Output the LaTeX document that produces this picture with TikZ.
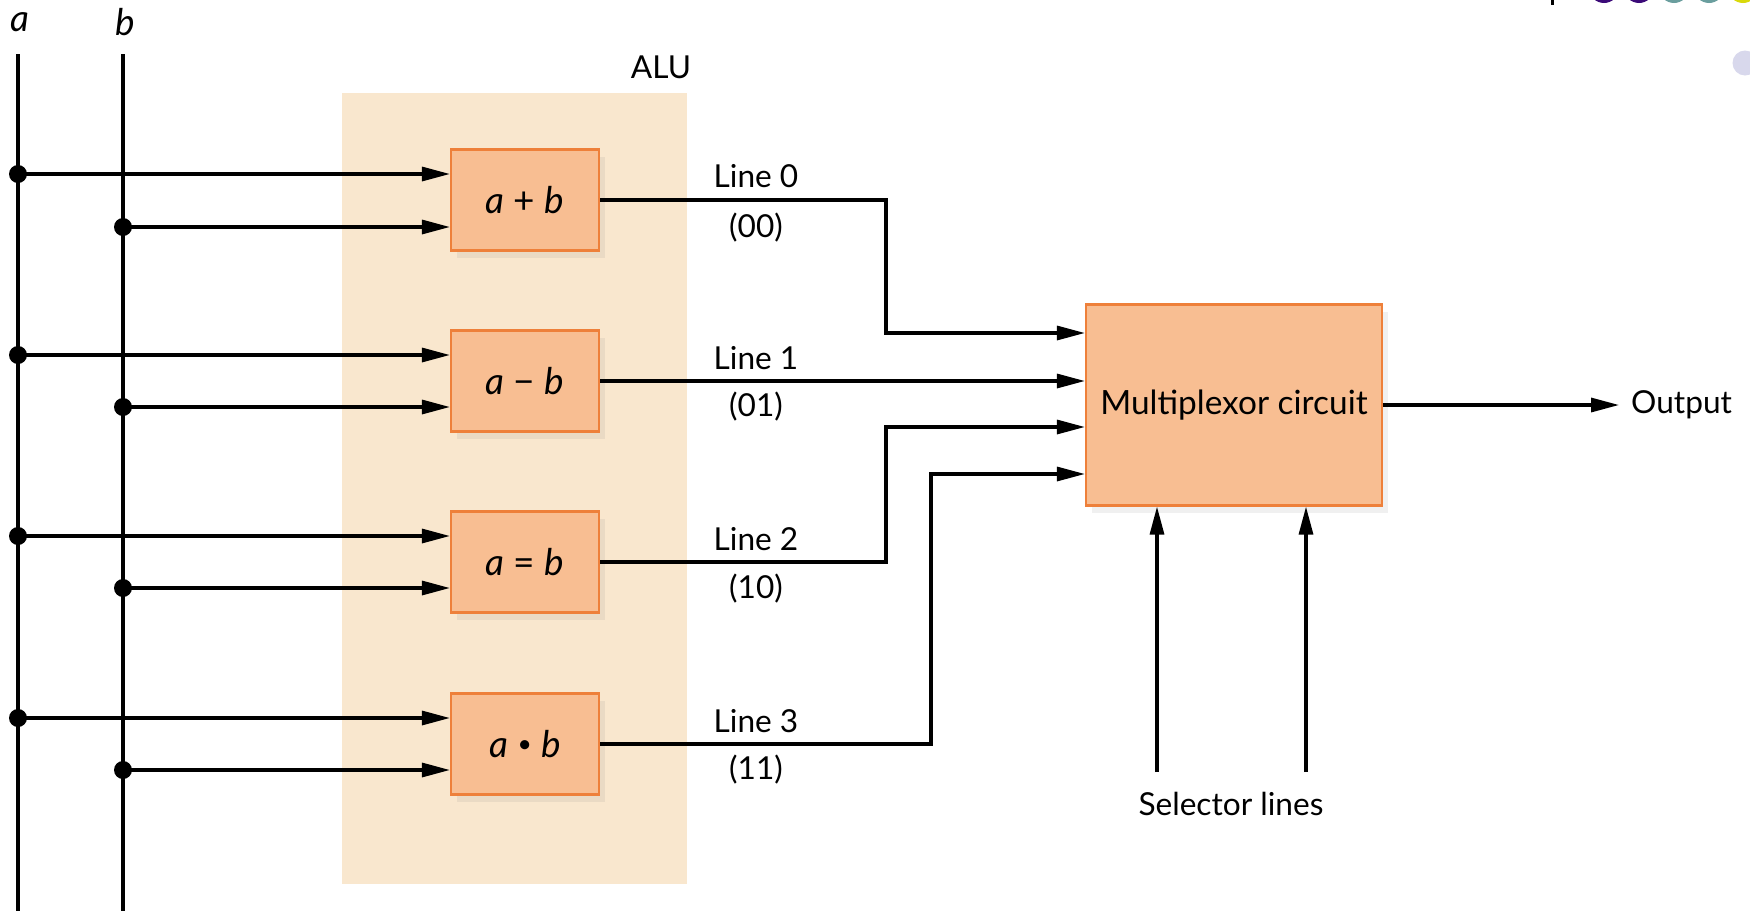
\documentclass[tikz,border=0pt]{standalone}
\usepackage{fontspec}
\setmainfont{Lato}
\usepackage{tikz}
\usetikzlibrary{arrows.meta}
\usetikzlibrary{shadows}
\definecolor{alubg}{RGB}{249,231,206}
\definecolor{pfirsich}{RGB}{248,190,146}
\definecolor{kante}{RGB}{238,128,58}
\definecolor{lila}{RGB}{59,10,120}
\definecolor{petrol}{RGB}{106,158,158}
\definecolor{gelb}{RGB}{217,217,10}
\definecolor{lavendel}{RGB}{216,216,236}

\begin{document}
\begin{tikzpicture}
     [
     x=0.1mm, y=-0.1mm,
     op/.style = {draw=kante, line width=0.6pt, fill=pfirsich,
       minimum width=14.8mm, minimum height=10.1mm,
       font=\fontsize{10.5pt}{12pt}\selectfont,
       drop shadow={shadow xshift=0.6mm, shadow yshift=-0.7mm, opacity=0.12}},
     mux/.style = {op, font=\fontsize{9.5pt}{11pt}\selectfont,
       minimum width=29.6mm, minimum height=20.1mm},
     punkt/.style = {circle, fill, inner sep=0pt, minimum size=1.8mm},
     >={Triangle[length=2.8mm,width=1.4mm]}, line width=0.9pt
     ]
     \fontsize{9pt}{11pt}\selectfont

     \useasboundingbox (0,0) rectangle (1750,911);

     % Folienschmuck oben rechts
     \fill (1551,0) rectangle (1554,5);
     \fill[lila] (1604,-12) circle (1.5mm) (1639,-12) circle (1.5mm);
     \fill[petrol] (1674,-12) circle (1.5mm) (1709,-12) circle (1.5mm);
     \fill[gelb] (1743,-12) circle (1.5mm);
     \fill[lavendel] (1745,63) circle (1.25mm);

     \fill[alubg] (342,93) rectangle (687,884);
     \path (661,67) node (alu) {ALU};

     \draw (525,200) node[op] (add) {\textit{a} + \textit{b}}
           (525,381) node[op] (sub) {\textit{a} − \textit{b}}
           (525,562) node[op] (eq) {\textit{a} = \textit{b}}
           (525,744) node[op] (und) {\textit{a} \raisebox{1.3pt}{\fontsize{7pt}{7pt}\selectfont\textbullet} \textit{b}}
           (1234,405) node[mux] (mux) {Multiplexor circuit}
     ;

     % Eingaenge a und b
     \path (20,22) node[font=\fontsize{10.5pt}{12pt}\selectfont] (alab) {\textit{a}}
           (125,22) node[font=\fontsize{10.5pt}{12pt}\selectfont] (blab) {\textit{b}};
     \draw (18,54) coordinate (atop) -- (18,911) coordinate (abot);
     \draw (123,54) coordinate (btop) -- (123,911) coordinate (bbot);

     \path (18,174) node[punkt] (a0) {} (123,227) node[punkt] (b0) {}
           (18,355) node[punkt] (a1) {} (123,407) node[punkt] (b1) {}
           (18,536) node[punkt] (a2) {} (123,588) node[punkt] (b2) {}
           (18,718) node[punkt] (a3) {} (123,770) node[punkt] (b3) {};

     \draw[->] (a0.center) -- (add.west |- a0) ;
     \draw[->] (b0.center) -- (add.west |- b0) ;
     \draw[->] (a1.center) -- (sub.west |- a1) ;
     \draw[->] (b1.center) -- (sub.west |- b1) ;
     \draw[->] (a2.center) -- (eq.west |- a2) ;
     \draw[->] (b2.center) -- (eq.west |- b2) ;
     \draw[->] (a3.center) -- (und.west |- a3) ;
     \draw[->] (b3.center) -- (und.west |- b3) ;

     % Leitungen zum Multiplexer
     \coordinate[yshift=7.2mm] (m0) at (mux.west);
     \coordinate[yshift=2.4mm] (m1) at (mux.west);
     \coordinate[yshift=-2.2mm] (m2) at (mux.west);
     \coordinate[yshift=-6.9mm] (m3) at (mux.west);

     \draw[->] (add.east) -| ([xshift=-19.9mm]m0) -- (m0);
     \draw[->] (sub.east) -- (sub.east -| m1);
     \draw[->] (eq.east) -| ([xshift=-19.9mm]m2) -- (m2);
     \draw[->] (und.east) -| ([xshift=-15.4mm]m3) -- (m3);

     \path (756,176) node (l0) {Line 0} (756,228) node (c0) {(00)}
           (756,358) node (l1) {Line 1} (756,407) node (c1) {(01)}
           (756,539) node (l2) {Line 2} (756,589) node (c2) {(10)}
           (756,721) node (l3) {Line 3} (756,770) node (c3) {(11)};

     % Ausgang und Auswahlleitungen
     \draw[->] (mux.east) -- ++(23.6mm,0) node[right] (out) {Output};

     \coordinate (s0) at (1157,772);
     \coordinate (s1) at (1306,772);
     \draw[->] (s0) -- (s0 |- mux.south);
     \draw[->] (s1) -- (s1 |- mux.south);
     \path (1231,804) node (sel) {Selector lines};
  \end{tikzpicture}
\end{document}
